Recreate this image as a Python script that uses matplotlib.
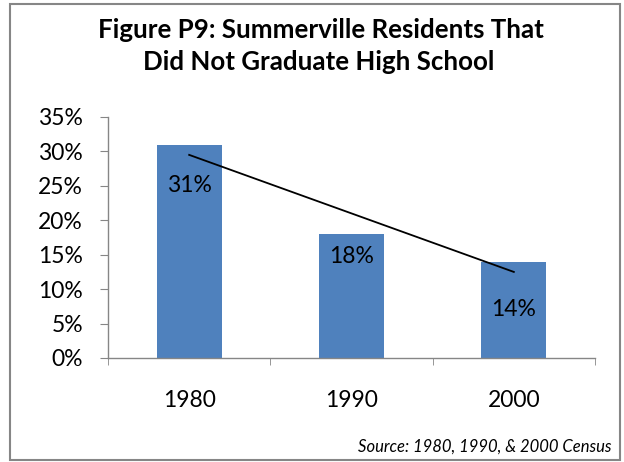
import matplotlib
matplotlib.use("Agg")
import matplotlib.pyplot as plt
import numpy as np
from matplotlib.patches import Rectangle

years = ["1980", "1990", "2000"]
pct = [31, 18, 14]
label_drop = [5.9, 3.3, 7.0]
y_ticks = [0, 5, 10, 15, 20, 25, 30, 35]

plt.rcParams["font.family"] = ["Lato", "DejaVu Sans"]

fig = plt.figure(figsize=(6.24, 4.62), dpi=100)
ax = fig.add_axes([108 / 624, 1 - 358 / 462, (595 - 108) / 624, (358 - 117) / 462])

x = np.arange(len(years))
ax.bar(x, pct, width=0.4, color="#4F81BD", zorder=2)

for xi, v, d in zip(x, pct, label_drop):
    ax.text(xi, v - d, f"{v}%", ha="center", va="center", fontsize=16.5, color="black", zorder=4)

# linear trend line
k, b = np.polyfit(x, pct, 1)
ax.plot([x[0], x[-1]], [k * x[0] + b, k * x[-1] + b], color="black", lw=1.3, zorder=3)

ax.set_xlim(-0.5, len(years) - 0.5)
ax.set_ylim(0, 35)
ax.set_yticks(y_ticks)
ax.set_yticklabels([f"{t}%" for t in y_ticks], fontsize=16.5)
ax.set_xticks(x)
ax.set_xticklabels(years, fontsize=16.5)
ax.tick_params(axis="x", length=0, pad=23)
ax.set_xticks(np.arange(-0.5, len(years)), minor=True)
ax.tick_params(axis="x", which="minor", length=5, color="#868686")
ax.tick_params(axis="y", length=6, color="#868686", pad=12)

for s in ["top", "right"]:
    ax.spines[s].set_visible(False)
for s in ["left", "bottom"]:
    ax.spines[s].set_color("#868686")
    ax.spines[s].set_linewidth(1.0)

fig.text(321 / 624, 1 - 30 / 462, "Figure P9: Summerville Residents That", ha="center", va="center",
         fontsize=18.6, fontweight="bold")
fig.text(319 / 624, 1 - 62 / 462, "Did Not Graduate High School", ha="center", va="center",
         fontsize=18.6, fontweight="bold")
fig.text(612 / 624, 1 - 447 / 462, "Source: 1980, 1990, & 2000 Census", ha="right", va="center",
         fontsize=12, style="italic")

fig.patches.append(Rectangle((10 / 624, 2 / 462), 610 / 624, 456 / 462, transform=fig.transFigure,
                             fill=False, edgecolor="#868686", lw=1.5))

fig.savefig("out.png", dpi=100)
